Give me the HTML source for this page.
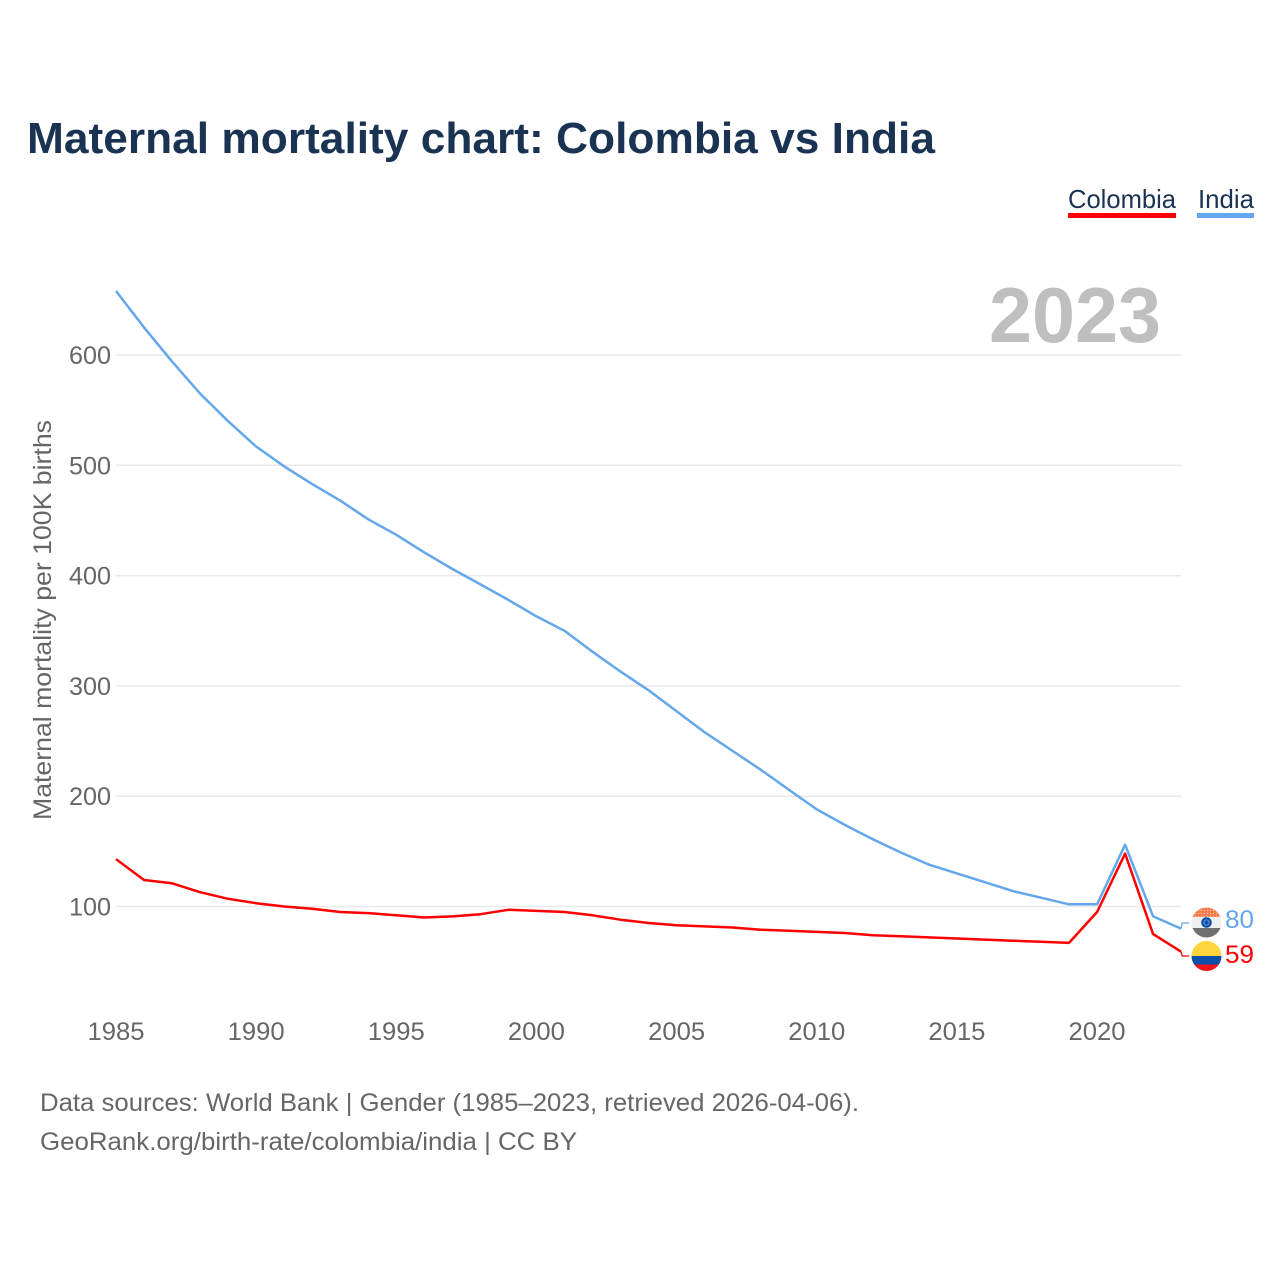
<!DOCTYPE html>
<html lang="en">
<head>
<meta charset="utf-8">
<title>Maternal mortality chart: Colombia vs India</title>
<style>
html,body{margin:0;padding:0;background:#fff}
svg{display:block}
text{font-family:"Liberation Sans",sans-serif}
</style>
</head>
<body>
<svg id="chart" width="1280" height="1280" viewBox="0 0 1280 1280" xmlns="http://www.w3.org/2000/svg">
  <defs>
    <clipPath id="flag-clip-in"><circle cx="1206.5" cy="922.5" r="15"/></clipPath>
    <clipPath id="flag-clip-co"><circle cx="1206.5" cy="956" r="15"/></clipPath>
    <pattern id="dots" width="3" height="3" patternUnits="userSpaceOnUse"><rect width="3" height="3" fill="#f47a4a"/><circle cx="1.5" cy="1.5" r=".7" fill="#fbc9a8"/></pattern>
  </defs>
  <text x="27" y="153" font-size="44" font-weight="700" fill="#1a3353" textLength="908" lengthAdjust="spacingAndGlyphs">Maternal mortality chart: Colombia vs India</text>

  <g>
    <g>
      <text x="1068" y="208" font-size="26" fill="#1a3353" textLength="108" lengthAdjust="spacingAndGlyphs">Colombia</text>
      <rect x="1068" y="213" width="108" height="5" fill="#ff0000"/>
    </g>
    <g>
      <text x="1198" y="208" font-size="26" fill="#1a3353" textLength="56" lengthAdjust="spacingAndGlyphs">India</text>
      <rect x="1197" y="213" width="57" height="5" fill="#64a7ec"/>
    </g>
  </g>

  <text x="989" y="342" font-size="78" font-weight="700" fill="#bfbfbf" textLength="172" lengthAdjust="spacingAndGlyphs">2023</text>

  <text transform="translate(51,820) rotate(-90)" font-size="25" fill="#666666" textLength="400" lengthAdjust="spacingAndGlyphs">Maternal mortality per 100K births</text>

  <g id="grid"></g>
  <g id="y-ticks"></g>
  <g id="x-ticks"></g>
  <g id="series"></g>

  <g clip-path="url(#flag-clip-in)">
    <rect x="1190" y="906" width="33" height="11" fill="url(#dots)"/>
    <rect x="1190" y="917" width="33" height="11" fill="#efefef"/>
    <rect x="1190" y="928" width="33" height="11" fill="#6f6f6f"/>
    <circle cx="1206.5" cy="922.5" r="5.3" fill="#0a4fa8"/>
    <circle cx="1206.5" cy="922.5" r="2.6" fill="none" stroke="#7fa6d8" stroke-width="0.8"/>
  </g>
  <g clip-path="url(#flag-clip-co)">
    <rect x="1190" y="940" width="33" height="16" fill="#fdd53c"/>
    <rect x="1190" y="956" width="33" height="8.5" fill="#0a4fa8"/>
    <rect x="1190" y="964.5" width="33" height="8" fill="#f0141e"/>
  </g>

  <text x="40" y="1111" font-size="25" fill="#666666" textLength="819" lengthAdjust="spacingAndGlyphs">Data sources: World Bank | Gender (1985–2023, retrieved 2026-04-06).</text>
  <text x="40" y="1150" font-size="25" fill="#666666" textLength="537" lengthAdjust="spacingAndGlyphs">GeoRank.org/birth-rate/colombia/india | CC BY</text>
</svg>
<script>
const years = [1985,1986,1987,1988,1989,1990,1991,1992,1993,1994,1995,1996,1997,1998,1999,2000,2001,2002,2003,2004,2005,2006,2007,2008,2009,2010,2011,2012,2013,2014,2015,2016,2017,2018,2019,2020,2021,2022,2023];
const indiaValues = [658,625,594,565,540,517,499,483,468,451,437,421,406,392,378,363,350,331,313,296,277,258,241,224,206,188,174,161,149,138,130,122,114,108,102,102,156,91,80];
const colombiaValues = [143,124,121,113,107,103,100,98,95,94,92,90,91,93,97,96,95,92,88,85,83,82,81,79,78,77,76,74,73,72,71,70,69,68,67,95,148,75,59];
const yTickValues = [100,200,300,400,500,600];
const xTickValues = [1985,1990,1995,2000,2005,2010,2015,2020];

const NS = 'http://www.w3.org/2000/svg';
function xScale(year){ return 116 + (year - 1985) * 28.03; }
function yScale(value){ return 906.5 - (value - 100) * 1.103; }
function make(tag, attrs, parent){
  const el = document.createElementNS(NS, tag);
  for (const k in attrs) el.setAttribute(k, attrs[k]);
  parent.appendChild(el);
  return el;
}
const grid = document.getElementById('grid');
const yTicks = document.getElementById('y-ticks');
const xTicks = document.getElementById('x-ticks');
const series = document.getElementById('series');

yTickValues.forEach(function(v){
  const line = make('line', {x1:116, x2:1181, y1:yScale(v), y2:yScale(v), stroke:'#e9e9e9', 'stroke-width':1.5}, grid);
  
  
  const t = make('text', {x:111, y:yScale(v)+9, 'text-anchor':'end', 'font-size':25, fill:'#666666', textLength:42, lengthAdjust:'spacingAndGlyphs'}, yTicks);
  t.textContent = v;
  
  
});
xTickValues.forEach(function(y){
  const t = make('text', {x:xScale(y), y:1040, 'text-anchor':'middle', 'font-size':25, fill:'#666666', textLength:57, lengthAdjust:'spacingAndGlyphs'}, xTicks);
  t.textContent = y;
  
  
});
function points(values){
  return values.map(function(v,i){ return xScale(years[i]).toFixed(1) + ',' + yScale(v).toFixed(1); }).join(' ');
}
const indiaLine = make('polyline', {points:points(indiaValues), fill:'none', stroke:'#64a7ec', 'stroke-width':2.5, 'stroke-linejoin':'round'}, series);


const colombiaLine = make('polyline', {points:points(colombiaValues), fill:'none', stroke:'#ff0000', 'stroke-width':2.5, 'stroke-linejoin':'round'}, series);



const lastI = indiaValues.length - 1;
const endX = xScale(years[lastI]);
const conI = make('polyline', {points:endX+','+yScale(indiaValues[lastI])+' '+(endX+1)+',923 '+(endX+8)+',923', fill:'none', stroke:'#64a7ec', 'stroke-width':1.2}, series);


const conC = make('polyline', {points:endX+','+yScale(colombiaValues[lastI])+' '+(endX+1)+',956 '+(endX+8)+',956', fill:'none', stroke:'#ff0000', 'stroke-width':1.2}, series);



const valI = make('text', {x:1225, y:928, 'font-size':25, fill:'#64a7ec', textLength:29, lengthAdjust:'spacingAndGlyphs'}, series);
valI.textContent = indiaValues[lastI];


const valC = make('text', {x:1225, y:963, 'font-size':25, fill:'#ff0000', textLength:29, lengthAdjust:'spacingAndGlyphs'}, series);
valC.textContent = colombiaValues[lastI];


</script>
</body>
</html>
